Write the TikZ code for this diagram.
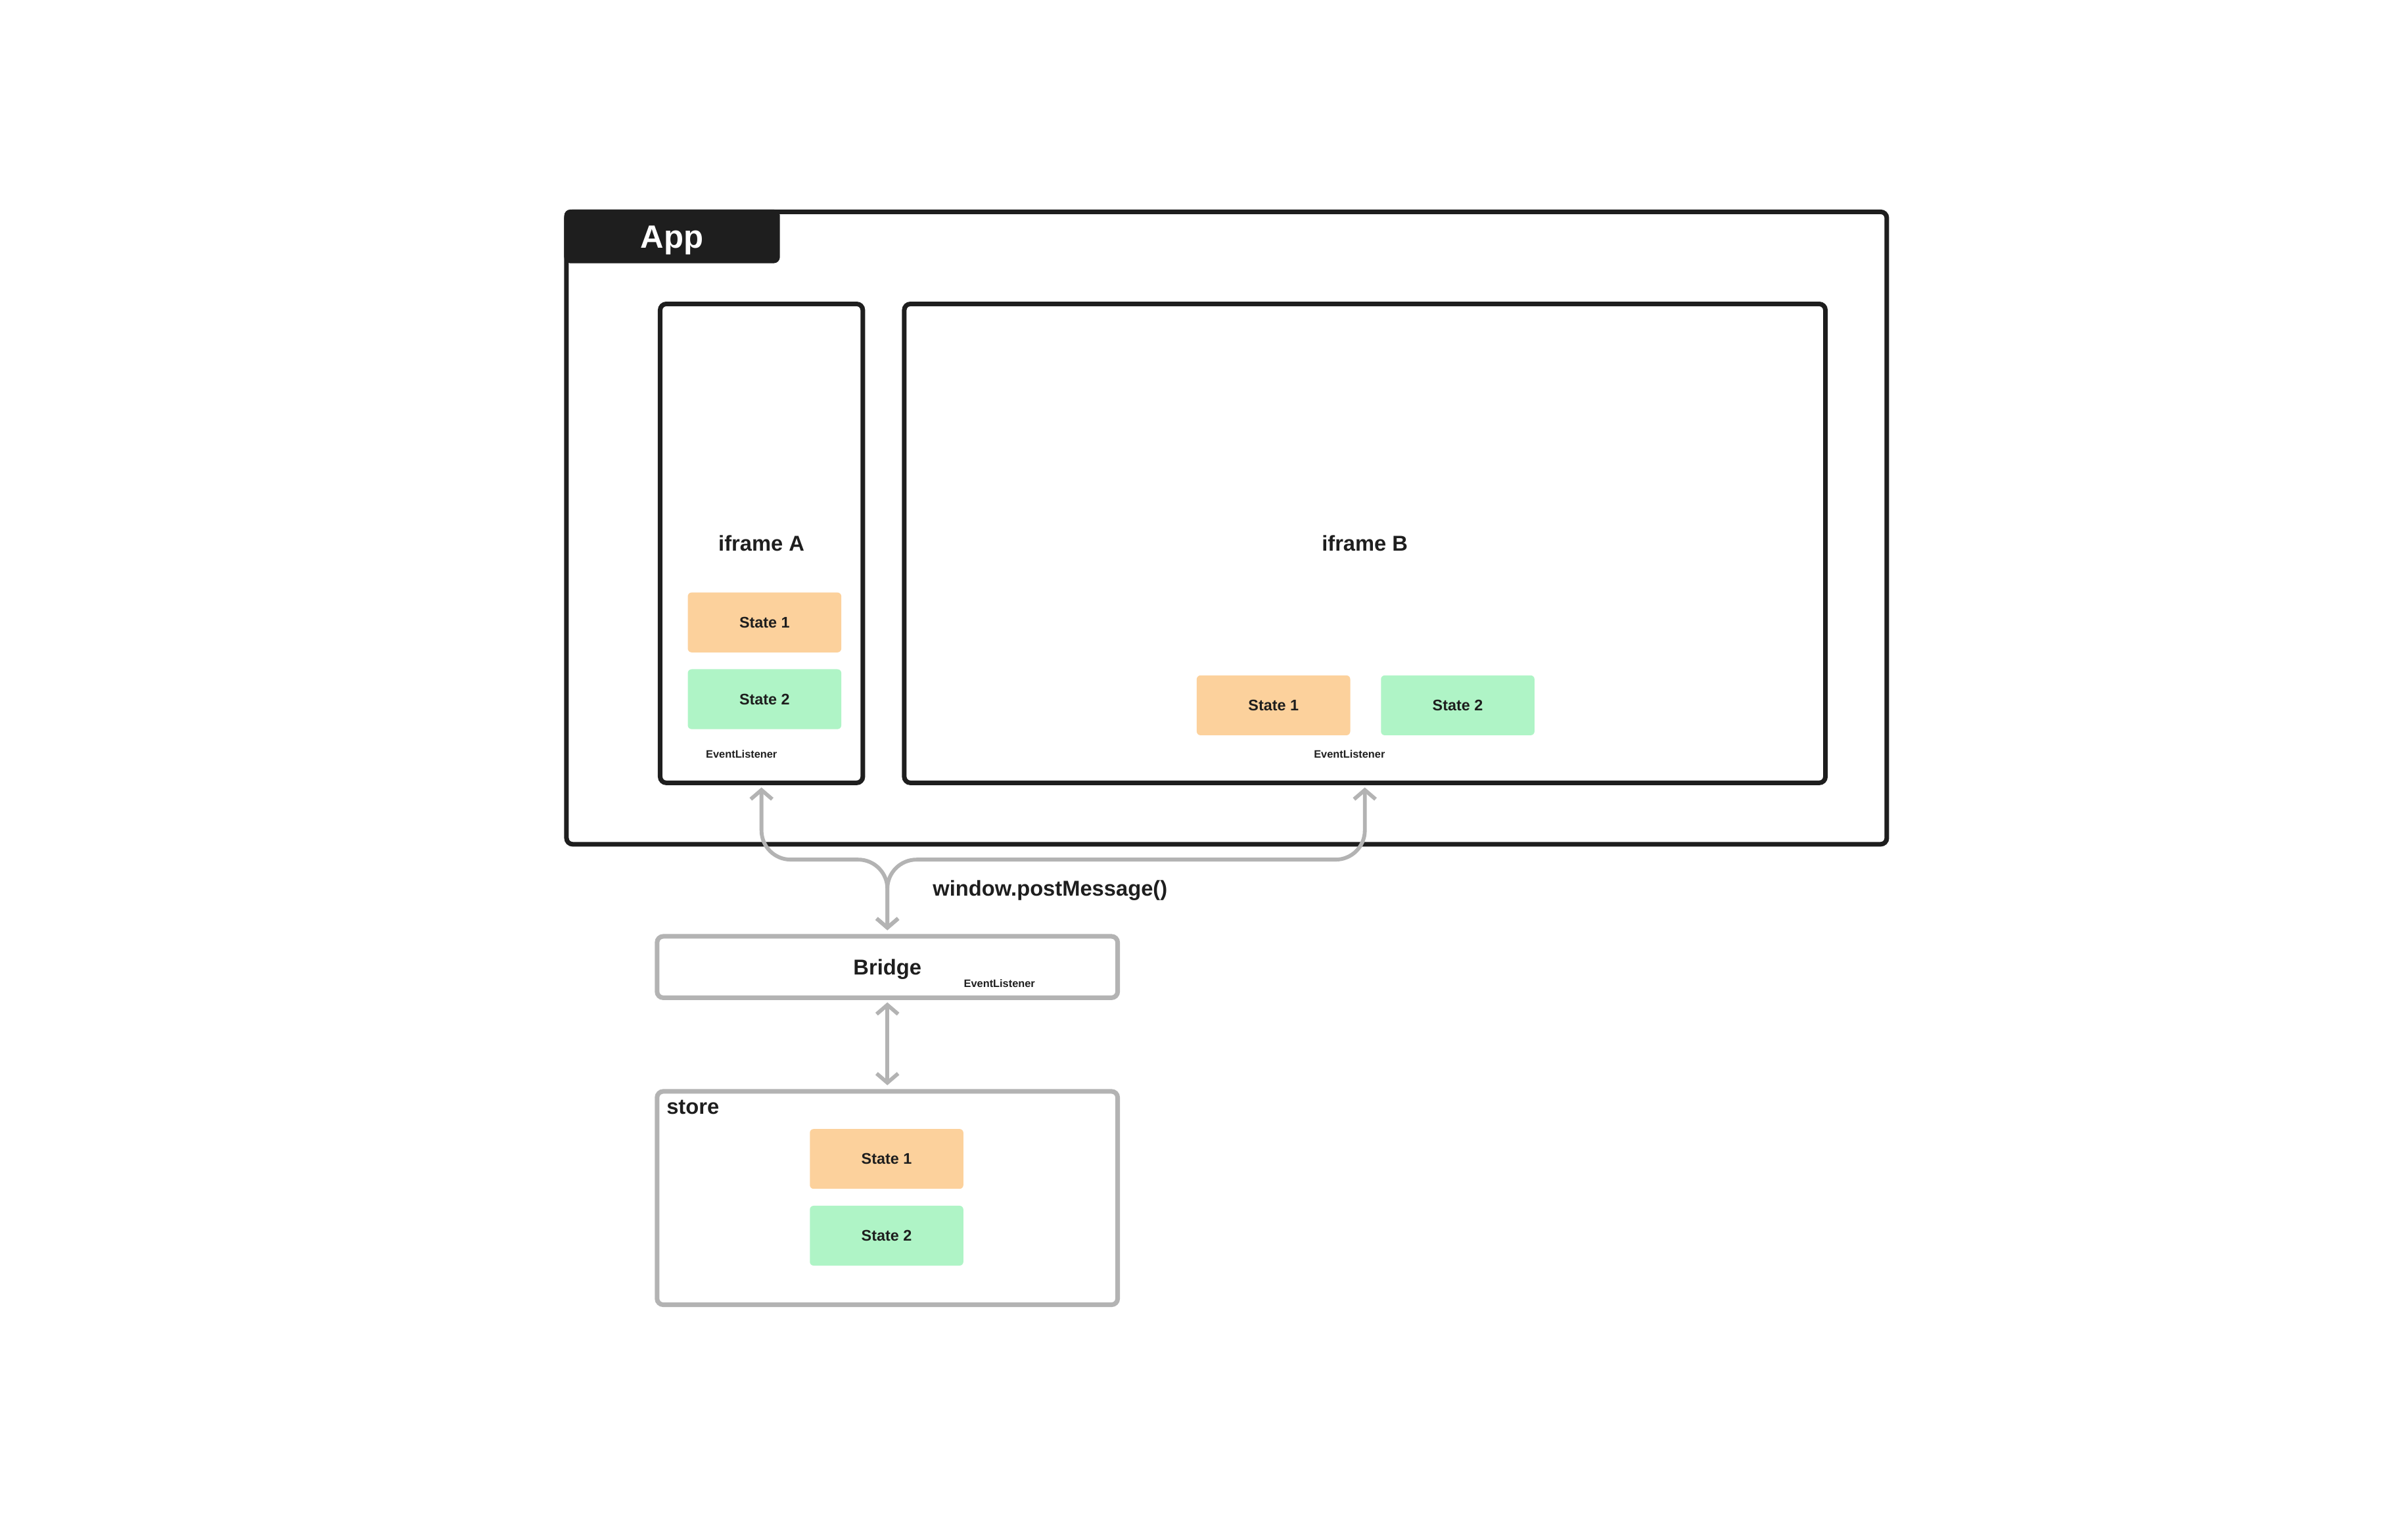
\documentclass[tikz,border=0pt]{standalone}
\usepackage{fontspec}
\setmainfont{Liberation Sans}
\usetikzlibrary{arrows.meta}
\definecolor{ink}{HTML}{1E1E1E}
\definecolor{wire}{HTML}{B3B3B3}
\definecolor{peach}{HTML}{FCD19C}
\definecolor{mint}{HTML}{AFF4C6}
\begin{document}
\begin{tikzpicture}[x=1pt,y=1pt,yscale=-1,
        frame/.style={draw=ink,line width=3pt,rounded corners=4pt,inner sep=0pt,text=ink,font=\fontsize{14}{16}\selectfont\bfseries},
        grayframe/.style={frame,draw=wire},
        statebox/.style={rounded corners=2.5pt,inner sep=0pt,minimum width=100pt,minimum height=39pt,text=ink,font=\fontsize{10}{12}\selectfont\bfseries},
        listener/.style={inner sep=0pt,text=ink,font=\fontsize{7}{8}\selectfont\bfseries},
        link/.style={draw=wire,line width=2.5pt,line cap=round,line join=round,rounded corners=19pt,{Straight Barb[length=6pt,width=14pt]}-{Straight Barb[length=6pt,width=14pt]}}]
        \useasboundingbox [fill=white] (0,0) rectangle (1568.5,1000);
        %Shape: App frame
        \node [frame,minimum width=860pt,minimum height=412pt] (app) at (799,344) {};
        \node [fill=ink,rounded corners=4pt,inner sep=0pt,minimum width=140.5pt,minimum height=35pt,text height=15pt,text depth=0pt,text=white,font=\fontsize{21}{24}\selectfont\bfseries] (apptab) at (437.75,154) {App};
        %Shape: iframes
        \node [frame,minimum width=132pt,minimum height=312pt] (iframeA) at (496,354) {iframe A};
        \node [frame,minimum width=600pt,minimum height=312pt] (iframeB) at (889,354) {iframe B};
        %Shape: states in iframe A
        \node [statebox,fill=peach] (stateA1) at (498,405.5) {State 1};
        \node [statebox,fill=mint] (stateA2) at (498,455.5) {State 2};
        \node [listener] (listenA) at (483,491.5) {EventListener};
        %Shape: states in iframe B
        \node [statebox,fill=peach] (stateB1) at (829.5,459.5) {State 1};
        \node [statebox,fill=mint] (stateB2) at (949.5,459.5) {State 2};
        \node [listener] (listenB) at (879,491.5) {EventListener};
        %Shape: Bridge
        \node [grayframe,minimum width=300pt,minimum height=40pt,text height=10pt,text depth=0pt] (bridge) at (578,630) {Bridge};
        \node [listener] (listenBridge) at (651,640.5) {EventListener};
        %Shape: store
        \node [grayframe,minimum width=300pt,minimum height=139pt] (store) at (578,780.5) {};
        \node [anchor=north west,inner sep=0pt,text=ink,font=\fontsize{14}{16}\selectfont\bfseries] (storelabel) at (434,716.5) {store};
        \node [statebox,fill=peach] (store1) at (577.5,755) {State 1};
        \node [statebox,fill=mint] (store2) at (577.5,805) {State 2};
        %Connectors
        \coordinate (fork) at (578,560);
        \draw [link,shorten <=1.5pt,shorten >=2.5pt] (iframeA.south) |- (fork) -- (bridge.north);
        \draw [link,shorten <=1.5pt,shorten >=2.5pt] (iframeB.south) |- (fork) -- (bridge.north);
        \draw [link,shorten <=1.5pt,shorten >=2.5pt] (bridge.south) -- (store.north);
        % Text Node
        \node [text=ink,font=\fontsize{14}{16}\selectfont\bfseries] (msg) at (684,580) {window.postMessage()};
\end{tikzpicture}
\end{document}
